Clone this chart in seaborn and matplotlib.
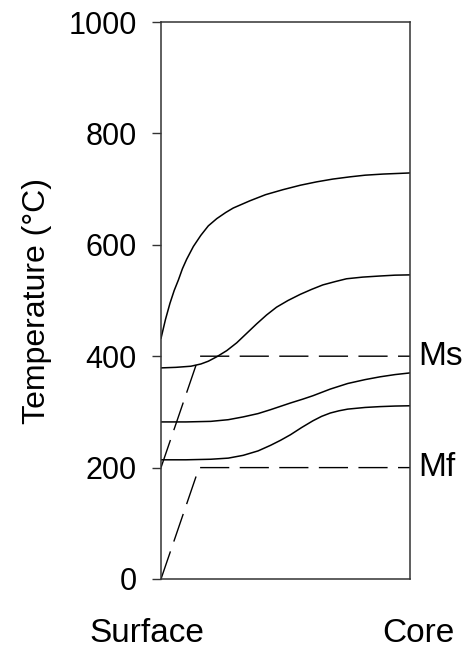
import matplotlib
matplotlib.use("Agg")
import matplotlib.pyplot as plt
import matplotlib.transforms as mtransforms
import pandas as pd
import seaborn as sns

# Position through the part (0 = surface, 1 = core) and temperature in °C
curve1_pos = [0, 0.018, 0.036, 0.053, 0.07, 0.086, 0.103, 0.13, 0.16, 0.19, 0.224,
              0.26, 0.29, 0.357, 0.42, 0.49, 0.56, 0.625, 0.69, 0.759, 0.82, 0.892, 1.0]
curve1_temp = [432, 466, 495, 518, 537, 557, 574, 597, 617, 634, 647,
               658, 666, 679, 690, 699, 707, 713, 718, 722, 725, 727, 729]

curve2_pos = [0, 0.06, 0.12, 0.16, 0.19, 0.224, 0.264, 0.304, 0.344, 0.384, 0.424,
              0.464, 0.51, 0.559, 0.605, 0.65, 0.70, 0.745, 0.81, 0.88, 0.94, 1.0]
curve2_temp = [379, 380, 382, 386, 391, 399, 410, 424, 441, 458, 474,
               488, 500, 511, 520, 528, 534, 539, 542, 544, 545.5, 546]

curve3_pos = [0, 0.1, 0.2, 0.27, 0.33, 0.39, 0.44, 0.52, 0.57, 0.61, 0.68,
              0.75, 0.82, 0.88, 0.94, 1.0]
curve3_temp = [282, 282, 283, 286, 291, 297, 304, 316, 323, 329, 341,
               351, 358, 363, 367, 370]

curve4_pos = [0, 0.1, 0.2, 0.27, 0.33, 0.39, 0.44, 0.48, 0.52, 0.565, 0.61,
              0.645, 0.68, 0.715, 0.75, 0.82, 0.88, 0.94, 1.0]
curve4_temp = [214, 214, 215, 217, 222, 230, 240, 249, 259, 272, 284,
               292, 298, 302, 305, 308, 309.5, 310.5, 311]

# Martensite start / finish lines
ms_pos = [0, 0.153, 1.0]
ms_temp = [200, 400, 400]
mf_pos = [0, 0.153, 1.0]
mf_temp = [0, 200, 200]

y_ticks = [0, 200, 400, 600, 800, 1000]
x_end_labels = ["Surface", "Core"]
line_labels = ["Ms", "Mf"]

curves = pd.concat([
    pd.DataFrame({"pos": p, "temp": t, "curve": name})
    for name, p, t in [("c1", curve1_pos, curve1_temp),
                       ("c2", curve2_pos, curve2_temp),
                       ("c3", curve3_pos, curve3_temp),
                       ("c4", curve4_pos, curve4_temp)]
], ignore_index=True)

transform_lines = pd.concat([
    pd.DataFrame({"pos": ms_pos, "temp": ms_temp, "curve": "Ms"}),
    pd.DataFrame({"pos": mf_pos, "temp": mf_temp, "curve": "Mf"}),
], ignore_index=True)

sns.set_theme(style="ticks")
plt.rcParams["font.family"] = ["Liberation Sans", "DejaVu Sans"]

fig = plt.figure(figsize=(4.74, 6.49), dpi=100)
ax = fig.add_axes([161 / 474, 1 - 579 / 649, 249 / 474, 557 / 649])

sns.lineplot(data=curves, x="pos", y="temp", units="curve", estimator=None,
             sort=False, color="black", linewidth=1.1, ax=ax, legend=False)
sns.lineplot(data=transform_lines, x="pos", y="temp", units="curve", estimator=None,
             sort=False, color="black", linewidth=1.0, ax=ax, legend=False,
             dashes=False, linestyle=(0, (21, 7.5)))

ax.set_xlim(0, 1)
ax.set_ylim(0, 1000)
ax.set_yticks(y_ticks)
ax.set_xticks([])
ax.set_xlabel("")
ax.set_ylabel("Temperature (°C)", fontsize=23, labelpad=12, color="black")
ax.tick_params(axis="y", direction="out", length=6.5, width=1.0, pad=11,
               labelsize=22, colors="#333333", labelcolor="black")
for side in ["left", "right", "top", "bottom"]:
    ax.spines[side].set_visible(True)
    ax.spines[side].set_color("#333333")
    ax.spines[side].set_linewidth(1.1)

# Labels at the ends of the x axis
ax.text(-0.055, -0.097, x_end_labels[0], transform=ax.transAxes, fontsize=24,
        ha="center", va="center", color="black")
ax.text(1.035, -0.097, x_end_labels[1], transform=ax.transAxes, fontsize=24,
        ha="center", va="center", color="black")

# Ms / Mf labels on the right
trans = mtransforms.blended_transform_factory(ax.transAxes, ax.transData)
ax.text(1.032, ms_temp[-1], line_labels[0], transform=trans, fontsize=24,
        ha="left", va="center", color="black")
ax.text(1.032, mf_temp[-1], line_labels[1], transform=trans, fontsize=24,
        ha="left", va="center", color="black")

fig.savefig("out.png", dpi=100)
